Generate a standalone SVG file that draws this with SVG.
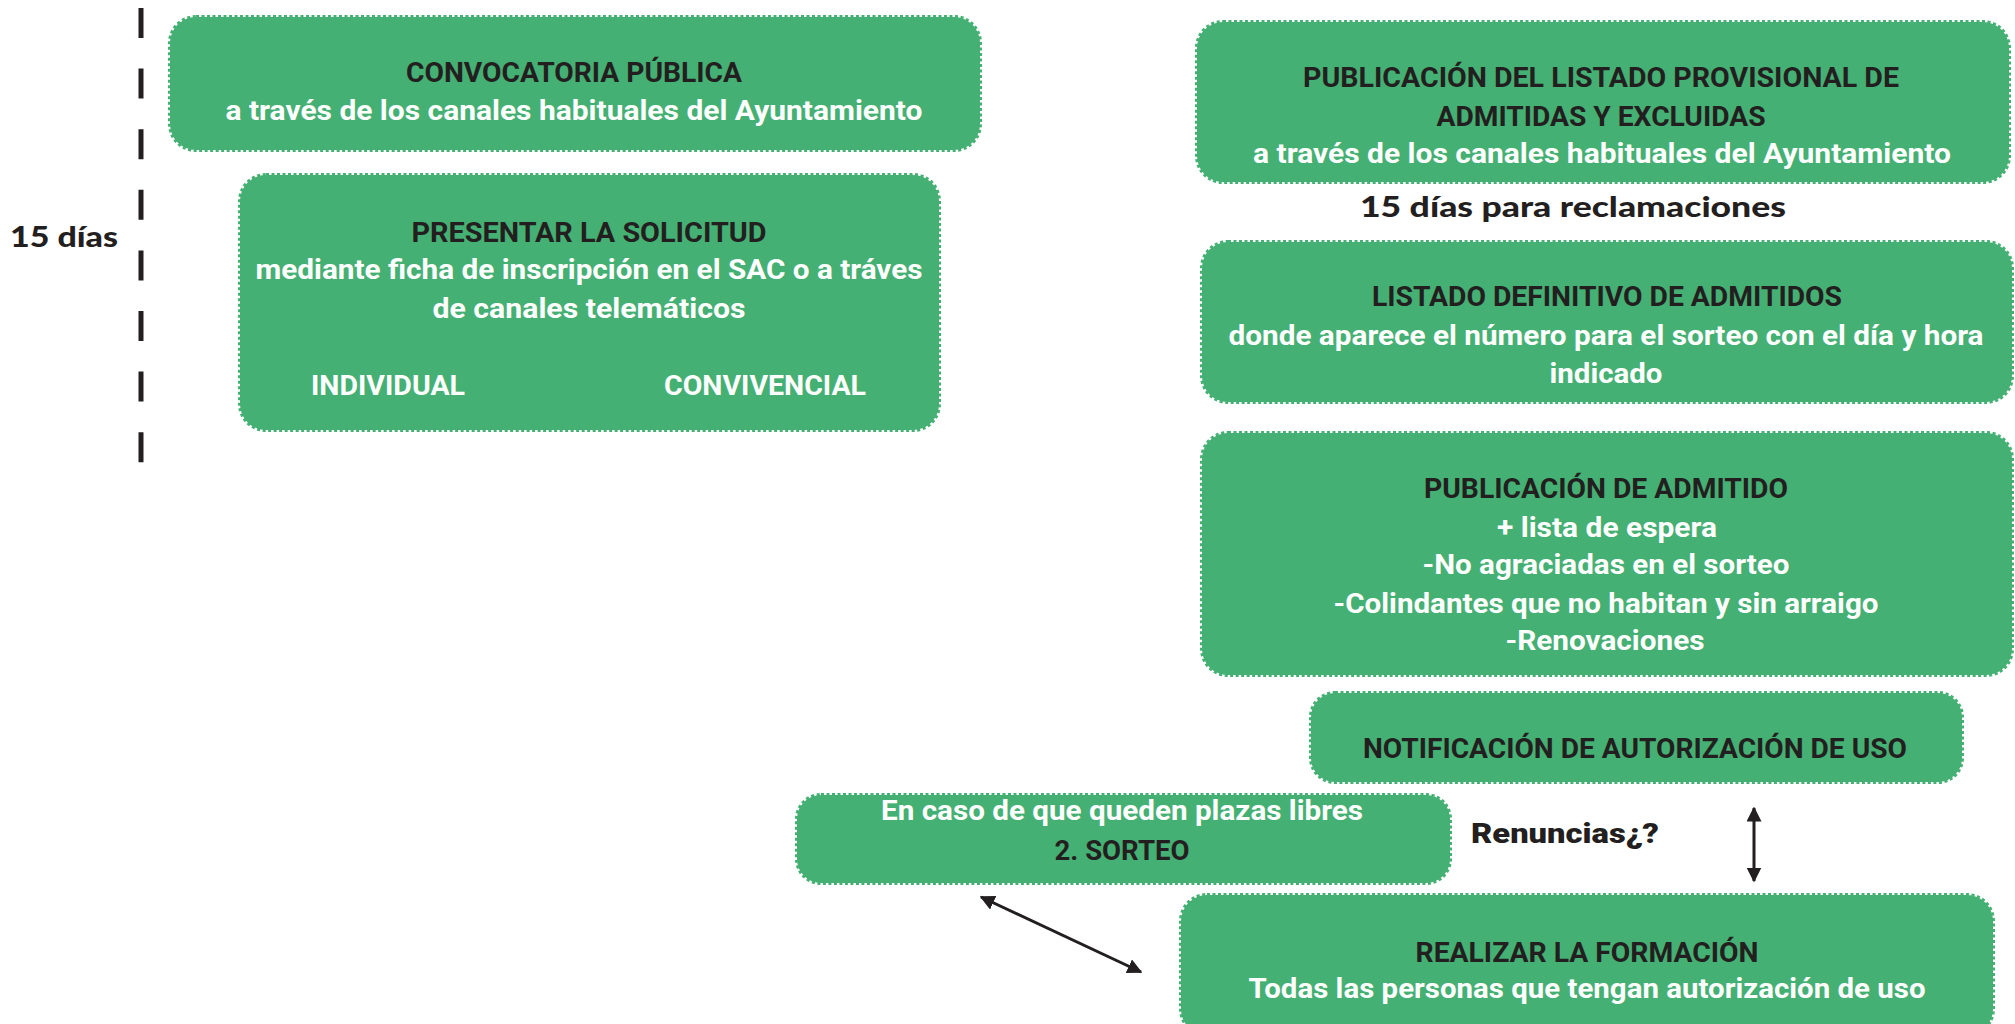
<svg xmlns="http://www.w3.org/2000/svg" width="2015" height="1024" viewBox="0 0 2015 1024">
<style>
.box{fill:#45b073;stroke:#45b073;stroke-width:4;stroke-dasharray:3 2.5}
.h{font-family:Roboto,"Liberation Sans",sans-serif;font-weight:700;font-size:28px;fill:#231f20;text-anchor:middle}
.s{font-family:Roboto,"Liberation Sans",sans-serif;font-weight:700;font-size:28px;fill:#ffffff;text-anchor:middle}
.g{font-family:Lato,"Open Sans",sans-serif;font-weight:900;font-size:29px;fill:#231f20}
.r{font-weight:900}
.conn{stroke:#231f20;stroke-width:3;fill:none}
</style>
<defs>
<marker id="ah" viewBox="0 0 10 10" refX="9" refY="5" markerWidth="5" markerHeight="5" orient="auto-start-reverse" markerUnits="strokeWidth">
<path d="M0,0 L10,5 L0,10 z" fill="#231f20"/>
</marker>
</defs>
<rect width="2015" height="1024" fill="#ffffff"/>
<g id="timeline">
<line x1="141" y1="8" x2="141" y2="464" stroke="#231f20" stroke-width="5" stroke-dasharray="30 30.6"/>
<text class="g" x="10" y="247" textLength="108" lengthAdjust="spacingAndGlyphs">15 días</text>
</g>
<g id="convocatoria">
<rect class="box" x="170" y="17" width="810" height="133" rx="26"/>
<text class="h" x="574" y="82" textLength="336" lengthAdjust="spacingAndGlyphs">CONVOCATORIA PÚBLICA</text>
<text class="s" x="574" y="120" textLength="697" lengthAdjust="spacingAndGlyphs">a través de los canales habituales del Ayuntamiento</text>
</g>
<g id="solicitud">
<rect class="box" x="240" y="175" width="699" height="255" rx="26"/>
<text class="h" x="589" y="242" textLength="355" lengthAdjust="spacingAndGlyphs">PRESENTAR LA SOLICITUD</text>
<text class="s" x="589" y="279" textLength="667" lengthAdjust="spacingAndGlyphs">mediante ficha de inscripción en el SAC o a tráves</text>
<text class="s" x="589" y="318" textLength="313" lengthAdjust="spacingAndGlyphs">de canales telemáticos</text>
<text class="s" x="388" y="395" textLength="154" lengthAdjust="spacingAndGlyphs">INDIVIDUAL</text>
<text class="s" x="765" y="395" textLength="202" lengthAdjust="spacingAndGlyphs">CONVIVENCIAL</text>
</g>
<g id="provisional">
<rect class="box" x="1197" y="22" width="812" height="160" rx="26"/>
<text class="h" x="1601" y="87" textLength="596" lengthAdjust="spacingAndGlyphs">PUBLICACIÓN DEL LISTADO PROVISIONAL DE</text>
<text class="h" x="1601" y="126" textLength="329" lengthAdjust="spacingAndGlyphs">ADMITIDAS Y EXCLUIDAS</text>
<text class="s" x="1602" y="163" textLength="698" lengthAdjust="spacingAndGlyphs">a través de los canales habituales del Ayuntamiento</text>
</g>
<g id="reclamaciones">
<text class="g" x="1360" y="217" textLength="426" lengthAdjust="spacingAndGlyphs">15 días para reclamaciones</text>
</g>
<g id="definitivo">
<rect class="box" x="1202" y="242" width="810" height="160" rx="26"/>
<text class="h" x="1607" y="306" textLength="470" lengthAdjust="spacingAndGlyphs">LISTADO DEFINITIVO DE ADMITIDOS</text>
<text class="s" x="1606" y="345" textLength="755" lengthAdjust="spacingAndGlyphs">donde aparece el número para el sorteo con el día y hora</text>
<text class="s" x="1606" y="383" textLength="113" lengthAdjust="spacingAndGlyphs">indicado</text>
</g>
<g id="admitido">
<rect class="box" x="1202" y="433" width="810" height="242" rx="26"/>
<text class="h" x="1606" y="498" textLength="364" lengthAdjust="spacingAndGlyphs">PUBLICACIÓN DE ADMITIDO</text>
<text class="s" x="1607" y="537" textLength="220" lengthAdjust="spacingAndGlyphs">+ lista de espera</text>
<text class="s" x="1606" y="574" textLength="367" lengthAdjust="spacingAndGlyphs">-No agraciadas en el sorteo</text>
<text class="s" x="1606" y="613" textLength="545" lengthAdjust="spacingAndGlyphs">-Colindantes que no habitan y sin arraigo</text>
<text class="s" x="1605" y="650" textLength="199" lengthAdjust="spacingAndGlyphs">-Renovaciones</text>
</g>
<g id="notificacion">
<rect class="box" x="1311" y="693" width="651" height="89" rx="24"/>
<text class="h" x="1635" y="758" textLength="544" lengthAdjust="spacingAndGlyphs">NOTIFICACIÓN DE AUTORIZACIÓN DE USO</text>
</g>
<g id="sorteo2">
<rect class="box" x="797" y="795" width="653" height="88" rx="24"/>
<text class="s" x="1122" y="820" textLength="482" lengthAdjust="spacingAndGlyphs">En caso de que queden plazas libres</text>
<text class="h" x="1122" y="860" textLength="135" lengthAdjust="spacingAndGlyphs">2. SORTEO</text>
</g>
<g id="renuncias">
<text class="h r" x="1565" y="843" textLength="188" lengthAdjust="spacingAndGlyphs">Renuncias¿?</text>
</g>
<g id="formacion">
<rect class="box" x="1181" y="895" width="812" height="140" rx="26"/>
<text class="h" x="1587" y="962" textLength="343" lengthAdjust="spacingAndGlyphs">REALIZAR LA FORMACIÓN</text>
<text class="s" x="1587" y="998" textLength="677" lengthAdjust="spacingAndGlyphs">Todas las personas que tengan autorización de uso</text>
</g>
<g id="connectors">
<line class="conn" x1="1754" y1="808" x2="1754" y2="881" marker-start="url(#ah)" marker-end="url(#ah)"/>
<line class="conn" x1="981" y1="897" x2="1141" y2="972" marker-start="url(#ah)" marker-end="url(#ah)"/>
</g>
</svg>
